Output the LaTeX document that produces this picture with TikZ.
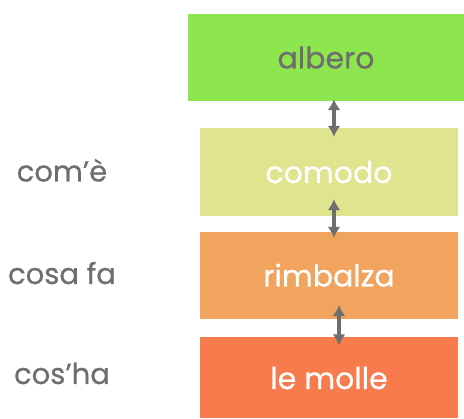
\documentclass[tikz,border=0pt]{standalone}
\usepackage{fontspec}
\setmainfont{Poppins}[FakeBold=0.6]
\usepackage{tikz}
\usetikzlibrary{arrows.meta,calc,positioning}
\definecolor{grigio}{HTML}{6E6E6E}
\definecolor{verde}{HTML}{8EE64E}
\definecolor{paglia}{HTML}{E0E48E}
\definecolor{arancio}{HTML}{F0A45E}
\definecolor{corallo}{HTML}{F77B4D}
\tikzset{
  livello/.style={fill=#1,draw=none,inner sep=0pt,text height=22pt,text depth=0pt,font=\fontsize{30}{30}\selectfont},
  domanda/.style={anchor=base,text=grigio,font=\fontsize{29}{29}\selectfont},
  legame/.style={draw=grigio,line width=3.4pt,{Latex[length=11pt,width=13pt]}-{Latex[length=11pt,width=13pt]}}
}

\begin{document}
\begin{tikzpicture}[x=1pt,y=1pt]
\useasboundingbox (0,0) rectangle (464,419);
\node[livello=verde,minimum width=276pt,minimum height=87pt,text=grigio] (albero) at (326,361.5) {albero};
\node[livello=paglia,minimum width=258pt,minimum height=88pt,text=white] (comodo) at (329,247) {comodo};
\node[livello=arancio,minimum width=258pt,minimum height=87pt,text=white] (rimbalza) at (329,143.5) {rimbalza};
\node[livello=corallo,minimum width=258pt,minimum height=81pt,text=white] (molle) at (329,41) {le molle};
\node[domanda] (come) at (62,237.5) {com’è};
\node[domanda] (cosafa) at (62,135) {cosa fa};
\node[domanda] (cosha) at (62,35) {cos’ha};
\draw[legame] ([xshift=8pt,yshift=2pt]albero.south) -- ([xshift=5pt,yshift=-9pt]comodo.north);
\draw[legame] ([xshift=5pt,yshift=17pt]comodo.south) -- ([xshift=5pt,yshift=-6pt]rimbalza.north);
\draw[legame] ([xshift=10pt,yshift=14pt]rimbalza.south) -- ([xshift=10pt,yshift=-8pt]molle.north);
\end{tikzpicture}
\end{document}
